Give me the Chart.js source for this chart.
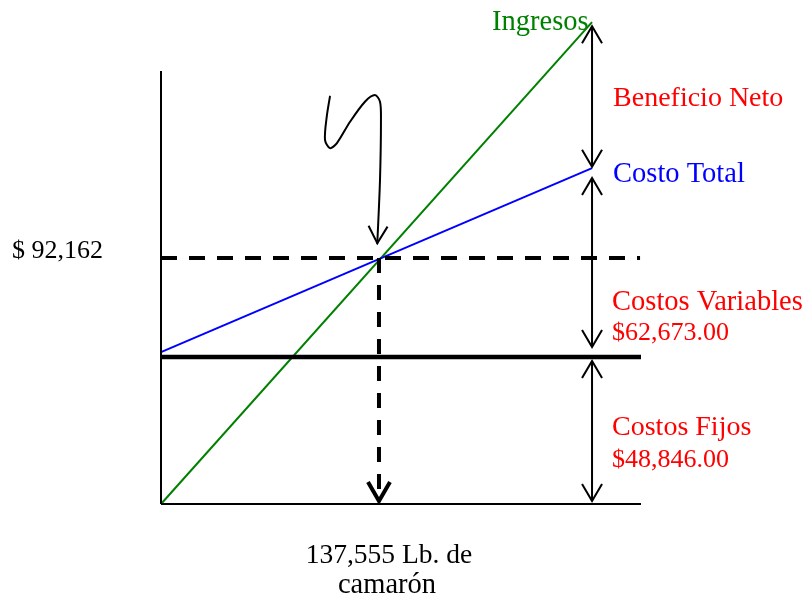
<!DOCTYPE html>
<html>
<head>
<meta charset="utf-8">
<script src="https://cdn.jsdelivr.net/npm/chart.js@4"></script>
<style>
  html, body { margin: 0; padding: 0; background: #ffffff; }
  #wrap { width: 810px; height: 599px; }
  canvas { display: block; }
</style>
</head>
<body>
<div id="wrap"><canvas id="c" width="810" height="599"></canvas></div>
<script>
// ---- Data (quantity in lb of shrimp, money in US$) ----
const axisEndQty = 302900;          // end of the quantity axis
const axisTopUSD = 162200;          // top of the money axis
const breakEvenQty = 137555;        // 137,555 Lb. de camarón
const breakEvenUSD = 92162;         // $ 92,162
const lineEndQty = 272000;          // where revenue / total cost lines end
const dashedEndQty = 302300;

const ingresosQty = [0, lineEndQty];
const ingresosUSD = [0, 180500];
const costoTotalQty = [0, lineEndQty];
const costoTotalUSD = [56900, 125800];
const costosFijosQty = [0, axisEndQty];
const costosFijosUSD = [55100, 55100];

// vertical double arrows at lineEndQty: [fromUSD, toUSD]
const arrowBeneficio = [179000, 126300];
const arrowVariables = [122100, 58800];
const arrowFijos = [53600, 1100];
const breakEvenArrowTipUSD = 1100;

// hand-drawn pointer to the break-even point
const squiggleQty = [106600, 104600, 103500, 106600, 110900, 119300, 128700, 135000, 138200, 138800, 138200, 136500];
const squiggleUSD = [152600, 145100, 136400, 133300, 135100, 143200, 150700, 153200, 150700, 143900, 121400, 97700];

// text labels
const labelIngresos = 'Ingresos';
const labelBeneficio = 'Beneficio Neto';
const labelCostoTotal = 'Costo Total';
const labelVariables = ['Costos Variables', '$62,673.00'];
const labelFijos = ['Costos Fijos', '$48,846.00'];
const labelBreakEvenUSD = '$ 92,162';
const labelBreakEvenQty = ['137,555 Lb. de', 'camarón'];

// ---- helpers ----
function zip(xs, ys) { return xs.map((x, i) => ({ x: x, y: ys[i] })); }
function seg(x0, y0, x1, y1) { return [{ x: x0, y: y0 }, { x: x1, y: y1 }]; }

const SERIF = '"Liberation Serif", "Times New Roman", serif';

function lineDs(data, color, width, extra) {
  return Object.assign({
    data: data, borderColor: color, borderWidth: width, pointRadius: 0,
    pointHoverRadius: 0, fill: false, tension: 0, clip: false,
    borderCapStyle: 'butt', borderJoinStyle: 'miter'
  }, extra || {});
}

const datasets = [
  lineDs(seg(0, 0, 0, axisTopUSD), '#000000', 2),
  lineDs(seg(0, 0, axisEndQty, 0), '#000000', 2),
  lineDs(zip(costosFijosQty, costosFijosUSD), '#000000', 4.5),
  lineDs(seg(0, breakEvenUSD, dashedEndQty, breakEvenUSD), '#000000', 4, { borderDash: [16, 12] }),
  lineDs(seg(breakEvenQty, breakEvenUSD, breakEvenQty, breakEvenArrowTipUSD), '#000000', 4, { borderDash: [15, 12] }),
  lineDs(zip(costoTotalQty, costoTotalUSD), '#0000ff', 2),
  lineDs(zip(ingresosQty, ingresosUSD), '#008000', 2),
  lineDs(seg(lineEndQty, arrowBeneficio[0], lineEndQty, arrowBeneficio[1]), '#000000', 2),
  lineDs(seg(lineEndQty, arrowVariables[0], lineEndQty, arrowVariables[1]), '#000000', 2),
  lineDs(seg(lineEndQty, arrowFijos[0], lineEndQty, arrowFijos[1]), '#000000', 2),
  lineDs(zip(squiggleQty, squiggleUSD), '#000000', 2, { tension: 0.3, borderCapStyle: 'round', borderJoinStyle: 'round' })
];

function arrowHead(ctx, tx, ty, fx, fy, len, half, width) {
  const dx = tx - fx, dy = ty - fy;
  const d = Math.hypot(dx, dy) || 1;
  const ux = dx / d, uy = dy / d;
  const px = -uy, py = ux;
  ctx.save();
  ctx.strokeStyle = '#000000';
  ctx.lineWidth = width;
  ctx.lineCap = 'butt';
  ctx.lineJoin = 'miter';
  ctx.beginPath();
  ctx.moveTo(tx - ux * len + px * half, ty - uy * len + py * half);
  ctx.lineTo(tx, ty);
  ctx.lineTo(tx - ux * len - px * half, ty - uy * len - py * half);
  ctx.stroke();
  ctx.restore();
}

const decorations = {
  id: 'decorations',
  afterDatasetsDraw(chart) {
    const ctx = chart.ctx;
    const xs = chart.scales.x, ys = chart.scales.y;
    const X = v => xs.getPixelForValue(v), Y = v => ys.getPixelForValue(v);

    [arrowBeneficio, arrowVariables, arrowFijos].forEach(a => {
      const x = X(lineEndQty), y0 = Y(a[0]), y1 = Y(a[1]);
      arrowHead(ctx, x, y0, x, y1, 17, 10, 2);
      arrowHead(ctx, x, y1, x, y0, 17, 10, 2);
    });
    arrowHead(ctx, X(breakEvenQty), Y(breakEvenArrowTipUSD), X(breakEvenQty), Y(breakEvenUSD), 19, 11, 4);
    const n = squiggleQty.length;
    arrowHead(ctx, X(squiggleQty[n - 1]), Y(squiggleUSD[n - 1]), X(squiggleQty[n - 2]), Y(squiggleUSD[n - 2]), 17, 9.5, 2);

    ctx.save();
    ctx.textBaseline = 'alphabetic';
    const txt = (s, x, y, color, size, align) => {
      ctx.font = size + 'px ' + SERIF;
      ctx.fillStyle = color;
      ctx.textAlign = align || 'left';
      ctx.fillText(s, x, y);
    };
    const lx = X(lineEndQty) + 21;
    txt(labelIngresos, X(lineEndQty) - 100, 30, '#008000', 28.5);
    txt(labelBeneficio, lx, 106, '#ff0000', 28);
    txt(labelCostoTotal, lx, 182, '#0000ff', 28.5);
    txt(labelVariables[0], lx - 1, 310, '#ff0000', 28.5);
    txt(labelVariables[1], lx - 1, 340, '#ff0000', 26);
    txt(labelFijos[0], lx - 1, 435, '#ff0000', 28);
    txt(labelFijos[1], lx - 1, 467, '#ff0000', 26);
    txt(labelBreakEvenUSD, 12, Y(breakEvenUSD), '#000000', 26);
    txt(labelBreakEvenQty[0], X(breakEvenQty) + 10, 563, '#000000', 27.5, 'center');
    txt(labelBreakEvenQty[1], X(breakEvenQty) + 8, 593, '#000000', 28.5, 'center');
    ctx.restore();
  }
};

new Chart(document.getElementById('c'), {
  type: 'line',
  data: { datasets: datasets },
  options: {
    responsive: false,
    devicePixelRatio: 1,
    animation: false,
    events: [],
    layout: { padding: { left: 161, right: 169, top: 71, bottom: 95 } },
    plugins: { legend: { display: false }, tooltip: { enabled: false }, title: { display: false } },
    scales: {
      x: { type: 'linear', display: false, min: 0, max: axisEndQty },
      y: { type: 'linear', display: false, min: 0, max: axisTopUSD }
    }
  },
  plugins: [decorations]
});
</script>
</body>
</html>
